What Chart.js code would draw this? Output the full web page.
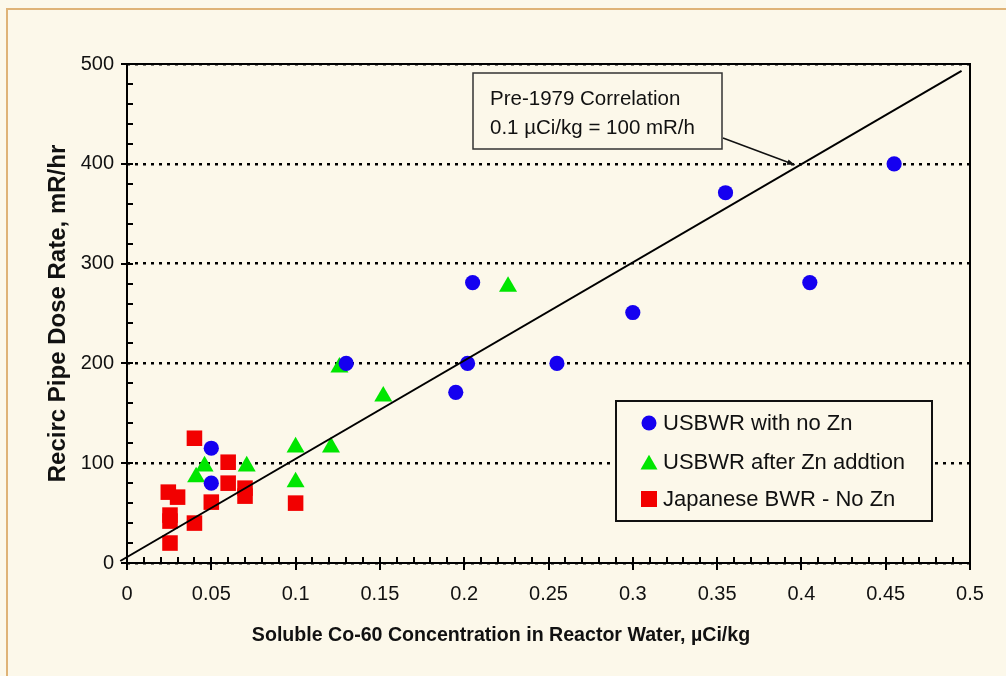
<!DOCTYPE html>
<html>
<head>
<meta charset="utf-8">
<script src="https://cdn.jsdelivr.net/npm/chart.js@4.4.0/dist/chart.umd.min.js"></script>
<style>
  html, body { margin: 0; padding: 0; background: #fcf8ea; overflow: hidden; }
  #wrap { position: relative; width: 1006px; height: 676px; }
  #frame { position: absolute; left: 6px; top: 8px; width: 1200px; height: 900px; border: 2px solid #dfb377; }
  canvas { position: absolute; left: 0; top: 0; }
</style>
</head>
<body>
<div id="wrap">
  <div id="frame"></div>
  <canvas id="c" width="1006" height="676"></canvas>
</div>
<script>
// Soluble Co-60 (uCi/kg) vs recirc pipe dose rate (mR/hr)
const seriesLabels = ['USBWR with no Zn', 'USBWR after Zn addtion', 'Japanese BWR - No Zn'];
const seriesColors = ['#1500f0', '#00e600', '#f20000'];

const noZnConc = [0.050, 0.050, 0.130, 0.195, 0.202, 0.205, 0.255, 0.300, 0.355, 0.405, 0.455];
const noZnDose = [115, 80, 200, 171, 200, 281, 200, 251, 371, 281, 400];

const znConc = [0.041, 0.046, 0.071, 0.100, 0.100, 0.121, 0.126, 0.152, 0.226];
const znDose = [86, 97, 97, 116, 81, 116, 196, 167, 277];

const japanConc = [0.0245, 0.030, 0.0255, 0.0255, 0.0255, 0.040, 0.040, 0.050, 0.060, 0.060, 0.070, 0.070, 0.100];
const japanDose = [71, 66, 48, 42, 20, 125, 40, 61, 101, 80, 75, 67, 60];

// Pre-1979 correlation line end points
const correlationConc = [-0.004, 0.495];
const correlationDose = [2, 493];

const xTicks = [0, 0.05, 0.1, 0.15, 0.2, 0.25, 0.3, 0.35, 0.4, 0.45, 0.5];
const yTicks = [0, 100, 200, 300, 400, 500];
const xMinorStep = 0.01;
const yMinorStep = 20;

const noteLines = ['Pre-1979 Correlation', '0.1 \u00b5Ci/kg = 100 mR/h'];
const noteTarget = [0.396, 399];
const xTitle = 'Soluble Co-60 Concentration in Reactor Water, \u00b5Ci/kg';
const yTitle = 'Recirc Pipe Dose Rate, mR/hr';

const FONT = '"Liberation Sans", Arial, sans-serif';
const pairs = (xs, ys) => xs.map((v, i) => ({ x: v, y: ys[i] }));

const pointStyles = ['circle', 'triangle', 'rect'];
const pointRadii = [7.6, 10.4, 11];

// Axis frame, tick marks, axis titles
const framePlugin = {
  id: 'framePlugin',
  beforeDatasetsDraw(chart) {
    const { ctx, chartArea: a, scales: { x, y } } = chart;
    ctx.save();
    ctx.strokeStyle = '#000';
    ctx.lineWidth = 2;
    ctx.beginPath();
    for (let k = 0; k * yMinorStep <= 500; k++) {
      const v = k * yMinorStep;
      const py = Math.round(y.getPixelForValue(v));
      const major = v % 100 === 0;
      ctx.moveTo(a.left - (major ? 6 : 0), py);
      ctx.lineTo(a.left + 6, py);
    }
    for (let k = 0; k <= 50; k++) {
      const v = k * xMinorStep;
      const px = Math.round(x.getPixelForValue(v));
      const major = k % 5 === 0;
      ctx.moveTo(px, a.bottom - 6);
      ctx.lineTo(px, a.bottom + (major ? 7 : 0));
    }
    ctx.stroke();
    ctx.strokeRect(a.left, a.top, a.right - a.left, a.bottom - a.top);

    ctx.fillStyle = '#111';
    ctx.font = 'bold 19.6px ' + FONT;
    ctx.textAlign = 'center';
    ctx.textBaseline = 'alphabetic';
    ctx.fillText(xTitle, 501, 641);
    ctx.translate(65, (a.top + a.bottom) / 2);
    ctx.rotate(-Math.PI / 2);
    ctx.font = 'bold 24px ' + FONT;
    ctx.fillText(yTitle, 0, 0);
    ctx.restore();
  },
  afterDatasetsDraw(chart) {
    const { ctx, chartArea: a, scales: { x, y } } = chart;
    ctx.save();
    // correlation note with arrow
    const bx = a.left + 346, by = a.top + 9, bw = 249, bh = 76;
    ctx.fillStyle = '#fcf8ea';
    ctx.fillRect(bx, by, bw, bh);
    ctx.strokeStyle = '#333';
    ctx.lineWidth = 1.5;
    ctx.strokeRect(bx, by, bw, bh);
    ctx.fillStyle = '#111';
    ctx.font = '20.5px ' + FONT;
    ctx.textAlign = 'left';
    ctx.textBaseline = 'alphabetic';
    ctx.fillText(noteLines[0], bx + 17, by + 32);
    ctx.fillText(noteLines[1], bx + 17, by + 61);
    const tx = x.getPixelForValue(noteTarget[0]);
    const ty = y.getPixelForValue(noteTarget[1]);
    const sx = bx + bw + 1, sy = by + 65;
    ctx.strokeStyle = '#111';
    ctx.lineWidth = 1.5;
    ctx.beginPath();
    ctx.moveTo(sx, sy);
    ctx.lineTo(tx, ty);
    ctx.stroke();
    const ang = Math.atan2(ty - sy, tx - sx);
    ctx.beginPath();
    ctx.moveTo(tx, ty);
    ctx.lineTo(tx - 8 * Math.cos(ang - 0.35), ty - 8 * Math.sin(ang - 0.35));
    ctx.lineTo(tx - 8 * Math.cos(ang + 0.35), ty - 8 * Math.sin(ang + 0.35));
    ctx.closePath();
    ctx.fillStyle = '#111';
    ctx.fill();

    // legend
    const lx = a.left + 489, ly = a.top + 337, lw = 316, lh = 120;
    ctx.fillStyle = '#fcf8ea';
    ctx.fillRect(lx, ly, lw, lh);
    ctx.strokeStyle = '#111';
    ctx.lineWidth = 2;
    ctx.strokeRect(lx, ly, lw, lh);
    const rows = [22, 61, 98];
    const markerR = [7.5, 9.8, 11.3];
    const markerDy = [0, 2.5, 0];
    ctx.font = '22px ' + FONT;
    ctx.textBaseline = 'middle';
    chart.data.datasets.forEach((ds, i) => {
      if (ds.type === 'line') return;
      const ry = ly + rows[i];
      ctx.fillStyle = ds.backgroundColor;
      ctx.strokeStyle = ds.backgroundColor;
      Chart.helpers.drawPoint(ctx, { pointStyle: ds.pointStyle, radius: markerR[i], rotation: 0, borderWidth: 0 }, lx + 33, ry + markerDy[i]);
      ctx.fillStyle = '#111';
      ctx.fillText(ds.label, lx + 47, ry + 1);
    });
    ctx.restore();
  }
};

const scatterSets = [[noZnConc, noZnDose], [znConc, znDose], [japanConc, japanDose]].map((s, i) => ({
  type: 'scatter',
  label: seriesLabels[i],
  data: pairs(s[0], s[1]),
  backgroundColor: seriesColors[i],
  borderColor: seriesColors[i],
  borderWidth: 0,
  pointStyle: pointStyles[i],
  pointRadius: pointRadii[i],
  pointHoverRadius: pointRadii[i],
  order: i + 1
}));

new Chart(document.getElementById('c'), {
  data: {
    datasets: [
      ...scatterSets,
      {
        type: 'line',
        label: 'Pre-1979 Correlation',
        data: pairs(correlationConc, correlationDose),
        borderColor: '#000',
        borderWidth: 2,
        pointRadius: 0,
        fill: false,
        clip: false,
        order: 0
      }
    ]
  },
  options: {
    responsive: false,
    animation: false,
    devicePixelRatio: 1,
    layout: { padding: { left: 0, top: 64, right: 36, bottom: 0 } },
    plugins: { legend: { display: false }, tooltip: { enabled: false } },
    scales: {
      x: {
        type: 'linear',
        min: 0, max: 0.5,
        afterBuildTicks: s => { s.ticks = xTicks.map(v => ({ value: v })); },
        afterFit: s => { s.height = 113; },
        grid: { display: false, drawTicks: false },
        border: { display: false },
        ticks: {
          color: '#111',
          font: { family: FONT, size: 20 },
          padding: 19,
          maxRotation: 0,
          autoSkip: false,
          callback: v => String(Number(v.toFixed(2)))
        }
      },
      y: {
        type: 'linear',
        min: 0, max: 500,
        afterBuildTicks: s => { s.ticks = yTicks.map(v => ({ value: v })); },
        afterFit: s => { s.width = 127; },
        grid: { color: '#000', lineWidth: 2.5, drawTicks: false },
        border: { display: false, dash: [3, 5] },
        ticks: {
          color: '#111',
          font: { family: FONT, size: 20 },
          padding: 13,
          autoSkip: false
        }
      }
    }
  },
  plugins: [framePlugin]
});
</script>
</body>
</html>
